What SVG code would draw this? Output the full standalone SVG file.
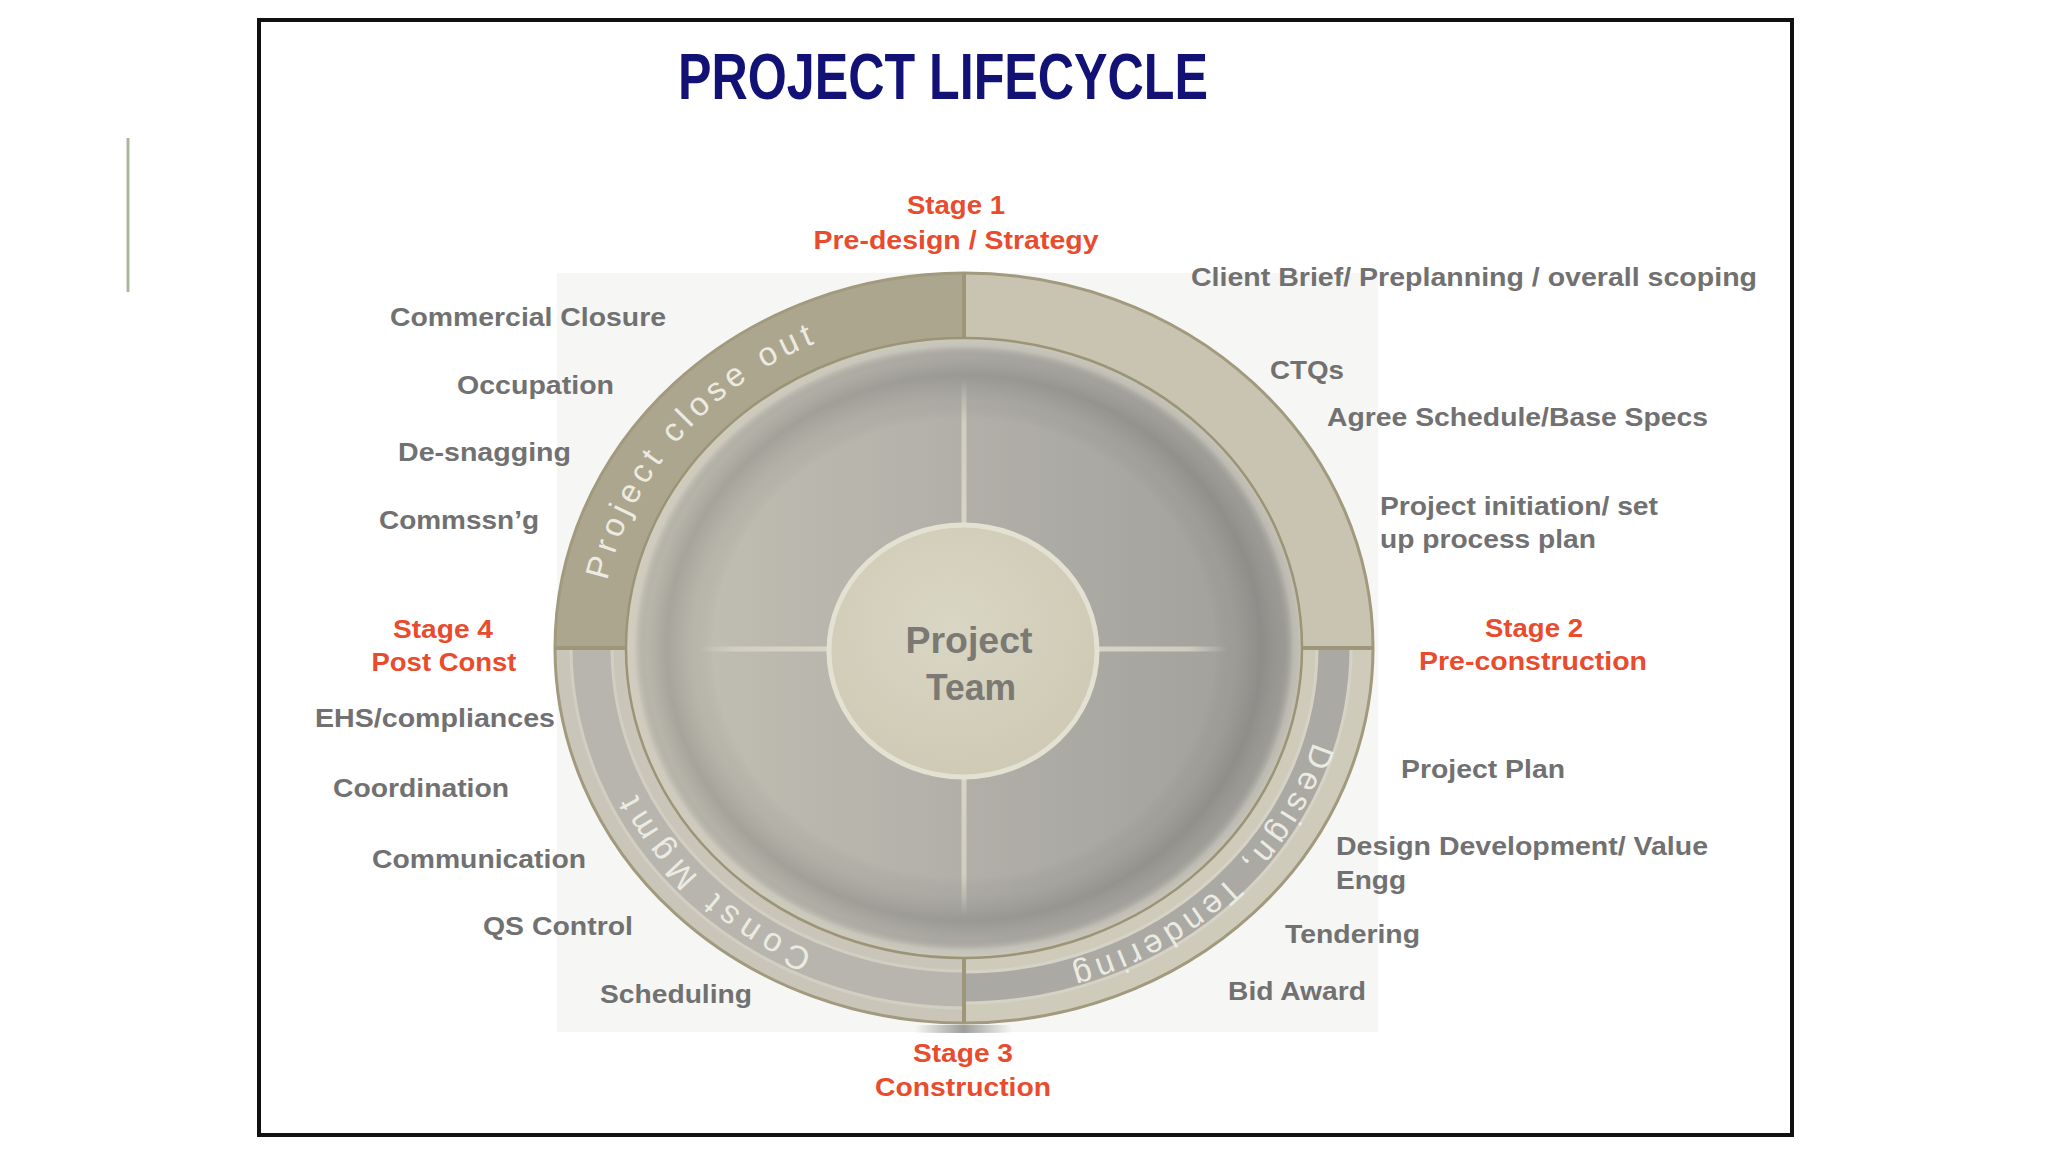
<svg xmlns="http://www.w3.org/2000/svg" width="2048" height="1152" viewBox="0 0 2048 1152">
<defs>
<style>
.lbl{font-family:"Liberation Sans",Arial,sans-serif;font-weight:bold;font-size:26px;fill:#717172}
.stg{font-family:"Liberation Sans",Arial,sans-serif;font-weight:bold;font-size:26px;fill:#e94b2d;text-anchor:middle}
.ring{font-family:"Liberation Sans",Arial,sans-serif;font-size:33px;fill:#ecebe2;text-anchor:middle}
.div{stroke:#9d9678;stroke-width:4;fill:none}
.cross{stroke-width:5;fill:none}
</style>
<linearGradient id="discLin" x1="0" y1="0" x2="1" y2="0">
<stop offset="0" stop-color="#c4c1b4"/>
<stop offset="0.5" stop-color="#b1afa8"/>
<stop offset="1" stop-color="#9f9e99"/>
</linearGradient>
<radialGradient id="discRad" cx="0.5" cy="0.5" r="0.5">
<stop offset="0" stop-color="#000" stop-opacity="0"/>
<stop offset="0.74" stop-color="#000" stop-opacity="0"/>
<stop offset="0.8" stop-color="#5a5a5a" stop-opacity="0.08"/>
<stop offset="0.88" stop-color="#4a4a4a" stop-opacity="0.22"/>
<stop offset="0.94" stop-color="#6a6a6a" stop-opacity="0.12"/>
<stop offset="0.975" stop-color="#dcd9cb" stop-opacity="0.45"/>
<stop offset="1" stop-color="#d6d3c4" stop-opacity="0.7"/>
</radialGradient>
<radialGradient id="hub" cx="0.45" cy="0.4" r="0.6">
<stop offset="0" stop-color="#d9d6c4"/>
<stop offset="1" stop-color="#cecab5"/>
</radialGradient>
<linearGradient id="fadeTop" gradientUnits="userSpaceOnUse" x1="0" y1="525" x2="0" y2="380">
<stop offset="0" stop-color="#d8d5c7"/>
<stop offset="0.7" stop-color="#d8d5c7" stop-opacity="0.8"/>
<stop offset="1" stop-color="#d8d5c7" stop-opacity="0"/>
</linearGradient>
<linearGradient id="fadeBottom" gradientUnits="userSpaceOnUse" x1="0" y1="777" x2="0" y2="915">
<stop offset="0" stop-color="#d8d5c7"/>
<stop offset="0.7" stop-color="#d8d5c7" stop-opacity="0.8"/>
<stop offset="1" stop-color="#d8d5c7" stop-opacity="0"/>
</linearGradient>
<linearGradient id="fadeLeft" gradientUnits="userSpaceOnUse" x1="829" y1="0" x2="699" y2="0">
<stop offset="0" stop-color="#d8d5c7"/>
<stop offset="0.7" stop-color="#d8d5c7" stop-opacity="0.8"/>
<stop offset="1" stop-color="#d8d5c7" stop-opacity="0"/>
</linearGradient>
<linearGradient id="fadeRight" gradientUnits="userSpaceOnUse" x1="1097" y1="0" x2="1228" y2="0">
<stop offset="0" stop-color="#d8d5c7"/>
<stop offset="0.7" stop-color="#d8d5c7" stop-opacity="0.8"/>
<stop offset="1" stop-color="#d8d5c7" stop-opacity="0"/>
</linearGradient>
<linearGradient id="shadow" x1="0" y1="0" x2="1" y2="0">
<stop offset="0" stop-color="#777" stop-opacity="0"/>
<stop offset="0.5" stop-color="#777" stop-opacity="0.7"/>
<stop offset="1" stop-color="#777" stop-opacity="0"/>
</linearGradient>
<path id="arcTL" d="M 600 648 A 364 334 0 0 1 964 314"/>
<path id="arcBL" d="M 964 982 A 364 334 0 0 1 600 648"/>
<path id="arcBR" d="M 1328 648 A 364 334 0 0 1 964 982"/>
</defs>

<rect x="0" y="0" width="2048" height="1152" fill="#ffffff"/>
<line x1="128" y1="138" x2="128" y2="292" stroke="#a9b89c" stroke-width="3"/>
<rect id="frame" x="259" y="20" width="1533" height="1115" fill="#ffffff" stroke="#111111" stroke-width="4"/>

<g id="title">
<text x="678" y="99" font-family="Liberation Sans, Arial, sans-serif" font-weight="bold" font-size="65" fill="#121276" textLength="530" lengthAdjust="spacingAndGlyphs">PROJECT LIFECYCLE</text>
</g>

<rect x="557" y="273" width="821" height="759" fill="#f6f6f4"/>
<rect x="915" y="1025" width="97" height="8" fill="url(#shadow)"/>

<g id="ring">
<path id="q-topleft" d="M 555 648 A 409 375 0 0 1 964 273 L 964 338 A 338 310 0 0 0 626 648 Z" fill="#aca68e"/>
<path id="q-topright" d="M 964 273 A 409 375 0 0 1 1373 648 L 1302 648 A 338 310 0 0 0 964 338 Z" fill="#c9c4b1"/>
<path id="q-bottomright" d="M 1373 648 A 409 375 0 0 1 964 1023 L 964 958 A 338 310 0 0 0 1302 648 Z" fill="#cfcbbb"/>
<path d="M 1351 648 A 387 355 0 0 1 964 1003 L 964 972 A 353 324 0 0 0 1317 648 Z" fill="#aaa9a4" stroke="#d6d3c6" stroke-width="3"/>
<path id="q-bottomleft" d="M 964 1023 A 409 375 0 0 1 555 648 L 626 648 A 338 310 0 0 0 964 958 Z" fill="#c9c6b9"/>
<path d="M 964 1008 A 393 361 0 0 1 571 648 L 612 648 A 352 323 0 0 0 964 971 Z" fill="#b7b5ae" stroke="#d2cfc2" stroke-width="3"/>
<ellipse cx="964" cy="648" rx="409" ry="375" fill="none" stroke="#a19a7e" stroke-width="3"/>
<line class="div" x1="964" y1="273" x2="964" y2="338"/>
<line class="div" x1="964" y1="958" x2="964" y2="1023"/>
<line class="div" x1="555" y1="648" x2="626" y2="648"/>
<line class="div" x1="1302" y1="648" x2="1373" y2="648"/>
<text class="ring" letter-spacing="5.2"><textPath href="#arcTL" startOffset="234">Project close out</textPath></text>
<text class="ring" letter-spacing="7"><textPath href="#arcBL" startOffset="279">Const Mgmt</textPath></text>
<text class="ring" letter-spacing="4.9"><textPath href="#arcBR" startOffset="270">Design, Tendering</textPath></text>
</g>

<g id="disc">
<ellipse cx="964" cy="648" rx="338" ry="310" fill="url(#discLin)"/>
<ellipse cx="964" cy="648" rx="338" ry="310" fill="url(#discRad)"/>
<ellipse cx="964" cy="648" rx="338" ry="310" fill="none" stroke="#9b9476" stroke-width="2.5"/>
</g>

<g id="connectors">
<line x1="964" y1="380" x2="964" y2="525" stroke="url(#fadeTop)" class="cross"/>
<line x1="964" y1="777" x2="964" y2="915" stroke="url(#fadeBottom)" class="cross"/>
<line x1="699" y1="649" x2="829" y2="649" stroke="url(#fadeLeft)" class="cross"/>
<line x1="1097" y1="649" x2="1228" y2="649" stroke="url(#fadeRight)" class="cross"/>
</g>

<g id="center">
<ellipse cx="963" cy="651" rx="134" ry="126" fill="url(#hub)" stroke="#e3e1d1" stroke-width="5"/>
<text x="969" y="653" font-family="Liberation Sans, Arial, sans-serif" font-weight="bold" font-size="36" fill="#7a7974" text-anchor="middle" textLength="127" lengthAdjust="spacingAndGlyphs">Project</text>
<text x="971" y="700" font-family="Liberation Sans, Arial, sans-serif" font-weight="bold" font-size="36" fill="#7a7974" text-anchor="middle" textLength="90" lengthAdjust="spacingAndGlyphs">Team</text>
</g>

<g id="stages">
<text class="stg" x="956" y="214" textLength="98" lengthAdjust="spacingAndGlyphs">Stage 1</text>
<text class="stg" x="956" y="249" textLength="285" lengthAdjust="spacingAndGlyphs">Pre-design / Strategy</text>
<text class="stg" x="1534" y="637" textLength="98" lengthAdjust="spacingAndGlyphs">Stage 2</text>
<text class="stg" x="1533" y="670" textLength="228" lengthAdjust="spacingAndGlyphs">Pre-construction</text>
<text class="stg" x="963" y="1062" textLength="100" lengthAdjust="spacingAndGlyphs">Stage 3</text>
<text class="stg" x="963" y="1096" textLength="176" lengthAdjust="spacingAndGlyphs">Construction</text>
<text class="stg" x="443" y="638" textLength="100" lengthAdjust="spacingAndGlyphs">Stage 4</text>
<text class="stg" x="444" y="671" textLength="145" lengthAdjust="spacingAndGlyphs">Post Const</text>
</g>

<g id="items-left">
<text class="lbl" x="390" y="326" textLength="276" lengthAdjust="spacingAndGlyphs">Commercial Closure</text>
<text class="lbl" x="457" y="394" textLength="157" lengthAdjust="spacingAndGlyphs">Occupation</text>
<text class="lbl" x="398" y="461" textLength="173" lengthAdjust="spacingAndGlyphs">De-snagging</text>
<text class="lbl" x="379" y="529" textLength="160" lengthAdjust="spacingAndGlyphs">Commssn’g</text>
<text class="lbl" x="315" y="727" textLength="240" lengthAdjust="spacingAndGlyphs">EHS/compliances</text>
<text class="lbl" x="333" y="797" textLength="176" lengthAdjust="spacingAndGlyphs">Coordination</text>
<text class="lbl" x="372" y="868" textLength="214" lengthAdjust="spacingAndGlyphs">Communication</text>
<text class="lbl" x="483" y="935" textLength="150" lengthAdjust="spacingAndGlyphs">QS Control</text>
<text class="lbl" x="600" y="1003" textLength="152" lengthAdjust="spacingAndGlyphs">Scheduling</text>
</g>

<g id="items-right">
<text class="lbl" x="1191" y="286" textLength="566" lengthAdjust="spacingAndGlyphs">Client Brief/ Preplanning / overall scoping</text>
<text class="lbl" x="1270" y="379" textLength="74" lengthAdjust="spacingAndGlyphs">CTQs</text>
<text class="lbl" x="1327" y="426" textLength="381" lengthAdjust="spacingAndGlyphs">Agree Schedule/Base Specs</text>
<text class="lbl" x="1380" y="515" textLength="278" lengthAdjust="spacingAndGlyphs">Project initiation/ set</text>
<text class="lbl" x="1380" y="548" textLength="216" lengthAdjust="spacingAndGlyphs">up process plan</text>
<text class="lbl" x="1401" y="778" textLength="164" lengthAdjust="spacingAndGlyphs">Project Plan</text>
<text class="lbl" x="1336" y="855" textLength="372" lengthAdjust="spacingAndGlyphs">Design Development/ Value</text>
<text class="lbl" x="1336" y="889" textLength="70" lengthAdjust="spacingAndGlyphs">Engg</text>
<text class="lbl" x="1285" y="943" textLength="135" lengthAdjust="spacingAndGlyphs">Tendering</text>
<text class="lbl" x="1228" y="1000" textLength="138" lengthAdjust="spacingAndGlyphs">Bid Award</text>
</g>
</svg>
